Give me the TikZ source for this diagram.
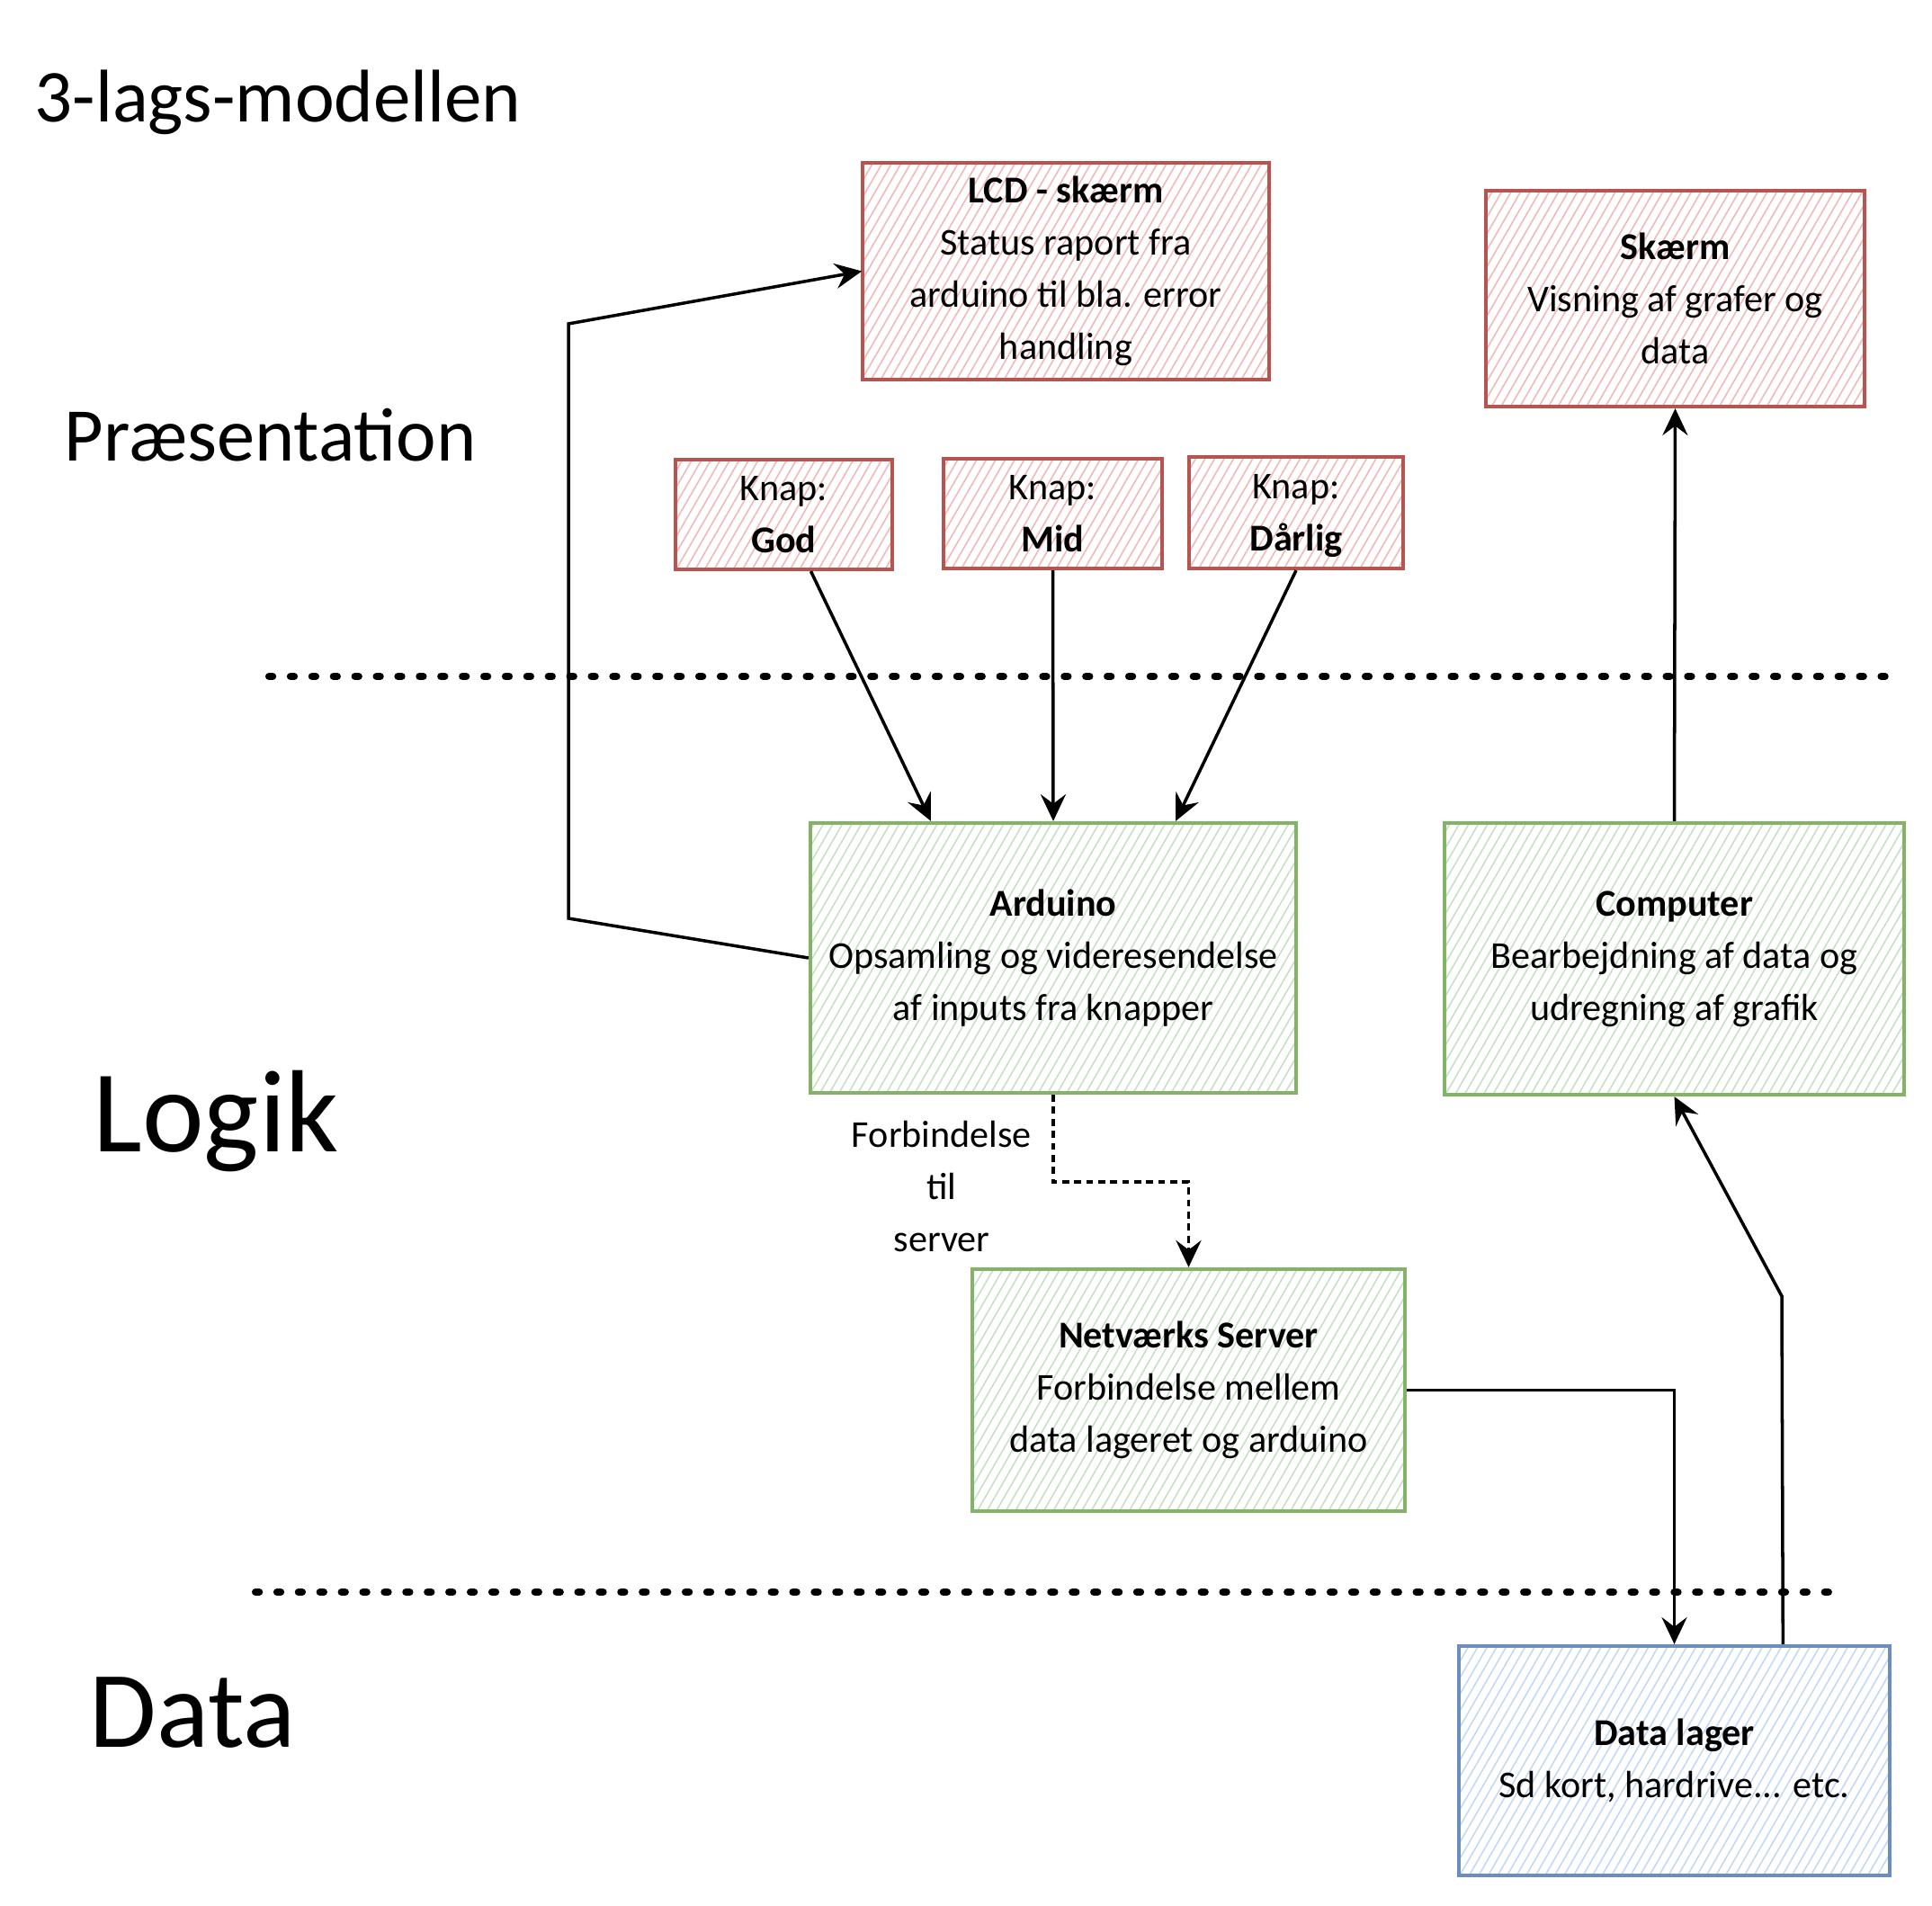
\documentclass[tikz,border=0pt]{standalone}
\usepackage{fontspec}
\setmainfont{Carlito}
\usepackage{tikz}
\usetikzlibrary{arrows.meta,calc,patterns.meta}

\definecolor{redline}{HTML}{B85450}
\definecolor{redhatch}{HTML}{F2B8B5}
\definecolor{greenline}{HTML}{82B366}
\definecolor{greenhatch}{HTML}{C6E0C4}
\definecolor{blueline}{HTML}{6C8EBF}
\definecolor{bluehatch}{HTML}{C3D8F5}

\begin{document}
\begin{tikzpicture}[
    box/.style={draw, line width=1.2pt, align=center, inner sep=2pt,
      font=\fontsize{12}{16.5}\selectfont},
    redbox/.style={box, draw=redline, pattern color=redhatch,
      pattern={Lines[angle=60,distance=2.6pt,line width=0.45pt]}},
    greenbox/.style={box, draw=greenline, pattern color=greenhatch,
      pattern={Lines[angle=60,distance=2.6pt,line width=0.45pt]}},
    bluebox/.style={box, draw=blueline, pattern color=bluehatch,
      pattern={Lines[angle=60,distance=2.6pt,line width=0.45pt]}},
    heading/.style={anchor=west, inner sep=0pt},
    conn/.style={-{Stealth[length=8.5pt,width=8pt,inset=3pt]}, line width=1pt},
    layer/.style={line width=2.3pt, line cap=round, dash pattern=on 1.2pt off 5.6pt},
  ]
    \useasboundingbox (0,0) rectangle (21.48,21.18);

    % layer titles
    \node[heading, font=\fontsize{23.6}{28}\selectfont] (title) at (0.38,20.04) {3-lags-modellen};
    \node[heading, font=\fontsize{24}{28}\selectfont] (lpres) at (0.71,16.34) {Præsentation};
    \node[heading, font=\fontsize{37}{40}\selectfont] (llogik) at (1.03,8.71) {Logik};
    \node[heading, font=\fontsize{34.5}{40}\selectfont] (ldata) at (0.99,2.14) {Data};

    \draw[layer] (2.99,13.66) -- (21.05,13.66);
    \draw[layer] (2.84,3.48) -- (20.51,3.48);

    % presentation
    \node[redbox, minimum width=4.52cm, minimum height=2.41cm] (lcd) at (11.85,18.165)
      {\textbf{LCD - skærm}\\Status raport fra\\arduino til bla. error\\handling};
    \node[redbox, minimum width=4.21cm, minimum height=2.40cm] (skaerm) at (18.625,17.86)
      {\textbf{Skærm}\\Visning af grafer og\\data};
    \node[redbox, minimum width=2.41cm, minimum height=1.22cm] (god) at (8.715,15.46)
      {Knap:\\\textbf{God}};
    \node[redbox, minimum width=2.43cm, minimum height=1.22cm] (mid) at (11.705,15.47)
      {Knap:\\\textbf{Mid}};
    \node[redbox, minimum width=2.38cm, minimum height=1.24cm] (darlig) at (14.41,15.48)
      {Knap:\\\textbf{Dårli\smash{g}}};

    % logic
    \node[greenbox, minimum width=5.40cm, minimum height=3.00cm] (ard) at (11.71,10.53)
      {\textbf{Arduino}\\Opsamling og videresendelse\\af inputs fra knapper};
    \node[greenbox, minimum width=5.11cm, minimum height=3.02cm] (comp) at (18.615,10.52)
      {\textbf{Computer}\\Bearbejdning af data og\\udregning af grafik};
    \node[greenbox, minimum width=4.81cm, minimum height=2.69cm] (srv) at (13.215,5.725)
      {\textbf{Netværks Server}\\Forbindelse mellem\\data lageret og arduino};
    \node[align=center, font=\fontsize{12}{16.5}\selectfont] (forb) at (10.47,7.99)
      {Forbindelse\\til\\server};

    % data
    \node[bluebox, minimum width=4.79cm, minimum height=2.55cm] (lager) at (18.615,1.605)
      {\textbf{Data lager}\\Sd kort, hardrive... etc.};

    % connectors
    \coordinate (bendA) at (6.32,10.97);
    \coordinate (bendB) at (6.32,17.58);
    \draw[conn] (ard.west) -- (bendA) -- (bendB) -- (lcd.west);
    \draw[conn] ([xshift=3mm]god.south) -- ($(ard.north west)!0.25!(ard.north east)$);
    \draw[conn] (mid.south) -- (ard.north);
    \draw[conn] (darlig.south) -- ($(ard.north west)!0.75!(ard.north east)$);
    \draw[conn] (comp.north) -- (skaerm.south);
    \draw[conn, line width=1.1pt, dash pattern=on 2.2pt off 1.6pt] (ard.south) -- ++(0,-0.97) -| (srv.north);
    \draw[conn] (srv.east) -| (lager.north);
    \coordinate (bendC) at (19.81,6.77);
    \draw[conn] ($(lager.north west)!0.75!(lager.north east)$) -- (bendC) -- (comp.south);
\end{tikzpicture}
\end{document}
